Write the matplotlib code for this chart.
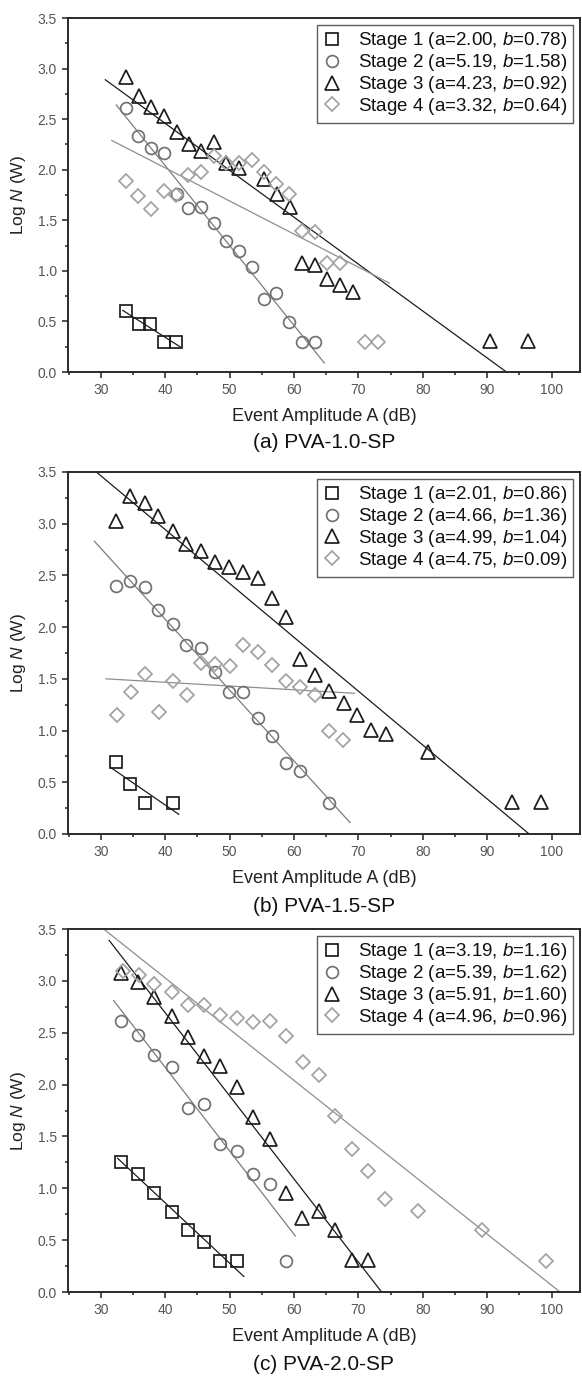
import numpy as np
import matplotlib
matplotlib.use('Agg')
from matplotlib import pyplot as plt
from matplotlib.ticker import MultipleLocator

plt.rcParams['font.family'] = ['Liberation Sans', 'DejaVu Sans']
plt.rcParams['mathtext.fontset'] = 'custom'
plt.rcParams['mathtext.rm'] = 'Liberation Sans'
plt.rcParams['mathtext.it'] = 'Liberation Sans:italic'

## Panel (a) PVA-1.0-SP
a_s1_x = [33.9, 35.9, 37.6, 39.8, 41.7]
a_s1_y = [0.60, 0.48, 0.48, 0.30, 0.30]
a_s2_x = [33.9, 35.8, 37.8, 39.8, 41.8, 43.6, 45.5, 47.5, 49.4, 51.5, 53.4, 55.3, 57.2, 59.2, 61.2, 63.2]
a_s2_y = [2.61, 2.33, 2.22, 2.17, 1.76, 1.62, 1.63, 1.47, 1.30, 1.20, 1.04, 0.72, 0.78, 0.49, 0.30, 0.30]
a_s3_x = [33.9, 35.9, 37.8, 39.8, 41.8, 43.7, 45.6, 47.6, 49.5, 51.5, 55.3, 57.4, 59.4, 61.3, 63.3, 65.1, 67.2, 69.2, 90.5, 96.4]
a_s3_y = [2.92, 2.73, 2.62, 2.53, 2.37, 2.25, 2.19, 2.27, 2.07, 2.02, 1.91, 1.76, 1.63, 1.08, 1.06, 0.92, 0.86, 0.79, 0.31, 0.31]
a_s4_x = [33.9, 35.8, 37.8, 39.8, 41.7, 43.6, 45.5, 47.5, 49.4, 51.5, 53.4, 55.3, 57.2, 59.2, 61.3, 63.3, 65.1, 67.2, 71.0, 73.1]
a_s4_y = [1.89, 1.74, 1.61, 1.79, 1.75, 1.95, 1.98, 2.14, 2.07, 2.07, 2.10, 1.98, 1.86, 1.76, 1.39, 1.38, 1.08, 1.08, 0.30, 0.30]
a_fit_x = [[33.4, 42.3], [32.4, 64.7], [30.7, 93.0], [31.7, 74.8]]
a_fit_y = [[0.61, 0.25], [2.64, 0.09], [2.89, 0.00], [2.29, 0.88]]
a_ab = [(2.00, 0.78), (5.19, 1.58), (4.23, 0.92), (3.32, 0.64)]

## Panel (b) PVA-1.5-SP
b_s1_x = [32.3, 34.6, 36.8, 41.2]
b_s1_y = [0.70, 0.48, 0.30, 0.30]
b_s2_x = [32.3, 34.6, 36.8, 38.9, 41.2, 43.3, 45.5, 47.7, 49.9, 52.1, 54.4, 56.6, 58.8, 61.0, 65.5]
b_s2_y = [2.40, 2.45, 2.39, 2.17, 2.03, 1.83, 1.80, 1.57, 1.37, 1.37, 1.12, 0.95, 0.69, 0.61, 0.30]
b_s3_x = [32.3, 34.6, 36.8, 38.9, 41.2, 43.3, 45.5, 47.7, 49.9, 52.1, 54.4, 56.6, 58.8, 61.0,
          63.2, 65.4, 67.7, 69.8, 72.0, 74.3, 80.8, 93.9, 98.3]
b_s3_y = [3.03, 3.27, 3.20, 3.07, 2.93, 2.80, 2.74, 2.63, 2.58, 2.53, 2.47, 2.28, 2.10, 1.69,
          1.54, 1.38, 1.27, 1.15, 1.01, 0.97, 0.79, 0.31, 0.31]
b_s4_x = [32.5, 34.7, 36.9, 39.0, 41.2, 43.4, 45.6, 47.8, 50.0, 52.1, 54.4, 56.6, 58.8, 61.0, 63.2, 65.5, 67.6]
b_s4_y = [1.15, 1.37, 1.55, 1.18, 1.48, 1.34, 1.65, 1.64, 1.62, 1.83, 1.76, 1.63, 1.48, 1.42, 1.34, 1.00, 0.91]
b_fit_x = [[31.6, 42.1], [29.0, 68.7], [29.3, 96.5], [30.8, 69.4]]
b_fit_y = [[0.64, 0.19], [2.83, 0.11], [3.50, 0.00], [1.50, 1.36]]
b_ab = [(2.01, 0.86), (4.66, 1.36), (4.99, 1.04), (4.75, 0.09)]

## Panel (c) PVA-2.0-SP
c_s1_x = [33.2, 35.7, 38.3, 41.0, 43.5, 46.0, 48.5, 51.2]
c_s1_y = [1.25, 1.14, 0.95, 0.77, 0.60, 0.48, 0.30, 0.30]
c_s2_x = [33.2, 35.7, 38.3, 41.0, 43.5, 46.0, 48.5, 51.2, 53.7, 56.2, 58.8]
c_s2_y = [2.61, 2.48, 2.29, 2.17, 1.77, 1.81, 1.43, 1.36, 1.14, 1.04, 0.30]
c_s3_x = [33.2, 35.7, 38.3, 41.0, 43.5, 46.0, 48.5, 51.1, 53.7, 56.2, 58.7, 61.3, 63.9, 66.4, 69.0, 71.5]
c_s3_y = [3.08, 2.99, 2.84, 2.66, 2.46, 2.28, 2.18, 1.98, 1.69, 1.48, 0.95, 0.71, 0.78, 0.60, 0.31, 0.31]
c_s4_x = [33.4, 35.9, 38.3, 41.0, 43.5, 46.0, 48.5, 51.2, 53.7, 56.2, 58.8, 61.4, 63.9, 66.4, 69.0,
          71.5, 74.1, 79.2, 89.2, 99.1]
c_s4_y = [3.10, 3.06, 2.97, 2.89, 2.77, 2.77, 2.67, 2.64, 2.60, 2.61, 2.47, 2.22, 2.09, 1.70, 1.38,
          1.17, 0.90, 0.78, 0.60, 0.30]
c_fit_x = [[32.6, 52.2], [32.0, 60.2], [31.3, 73.6], [30.45, 101.3]]
c_fit_y = [[1.29, 0.15], [2.81, 0.54], [3.39, 0.00], [3.50, 0.00]]
c_ab = [(3.19, 1.16), (5.39, 1.62), (5.91, 1.60), (4.96, 0.96)]

titles = ['(a) PVA-1.0-SP', '(b) PVA-1.5-SP', '(c) PVA-2.0-SP']

# marker, size, marker colour, line colour
styles = [('s', 8.0, '#1c1c1c', '#1c1c1c'),
          ('o', 8.5, '#727272', '#7c7c7c'),
          ('^', 9.5, '#1c1c1c', '#1c1c1c'),
          ('D', 7.5, '#a2a2a2', '#8e8e8e')]


def draw_panel(ax, xs, ys, fit_x, fit_y, ab, title):
    for k in range(4):
        mk, ms, mc, lc = styles[k]
        ax.plot(fit_x[k], fit_y[k], color=lc, lw=0.9, zorder=2)
        ax.plot(xs[k], ys[k], ls='none', marker=mk, ms=ms, mfc='none', mec=mc, mew=1.25,
                zorder=3, label='Stage %d (a=%.2f, $\\mathit{b}$=%.2f)' % (k + 1, ab[k][0], ab[k][1]))
    ax.set_xlim(24.9, 104.4)
    ax.set_ylim(0, 3.5)
    ax.xaxis.set_major_locator(MultipleLocator(10))
    ax.xaxis.set_minor_locator(MultipleLocator(5))
    ax.yaxis.set_major_locator(MultipleLocator(0.5))
    ax.yaxis.set_minor_locator(MultipleLocator(0.25))
    ax.set_xticks(np.arange(30, 101, 10))
    ax.tick_params(which='both', direction='out', color='#222222', width=1.1,
                   labelcolor='#555555', labelsize=10)
    ax.tick_params(which='major', length=4.5)
    ax.tick_params(which='minor', length=2.5)
    for sp in ax.spines.values():
        sp.set_linewidth(1.4)
        sp.set_color('#2a2a2a')
    ax.set_xlabel('Event Amplitude A (dB)', fontsize=13, color='#222222', labelpad=8)
    ax.set_ylabel('Log $\\mathit{N}$ (W)', fontsize=12.5, color='#222222', labelpad=7)
    ax.text(0.5, -0.2, title, transform=ax.transAxes, ha='center', va='center',
            fontsize=15, color='#111111')
    leg = ax.legend(loc='upper right', fontsize=13.5, frameon=True, fancybox=False,
                    borderaxespad=0.35, borderpad=0.3, labelspacing=0.05,
                    handlelength=1.0, handletextpad=0.9, numpoints=1)
    leg.get_frame().set_edgecolor('#333333')
    leg.get_frame().set_linewidth(1.0)
    for t in leg.get_texts():
        t.set_color('#111111')


fig = plt.figure(figsize=(5.82, 13.78), dpi=100)
ax_a = fig.add_axes([0.1168, 0.7300, 0.8797, 0.2569])
ax_b = fig.add_axes([0.1168, 0.3948, 0.8797, 0.2627])
ax_c = fig.add_axes([0.1168, 0.0624, 0.8797, 0.2634])

draw_panel(ax_a, [a_s1_x, a_s2_x, a_s3_x, a_s4_x], [a_s1_y, a_s2_y, a_s3_y, a_s4_y],
           a_fit_x, a_fit_y, a_ab, titles[0])
draw_panel(ax_b, [b_s1_x, b_s2_x, b_s3_x, b_s4_x], [b_s1_y, b_s2_y, b_s3_y, b_s4_y],
           b_fit_x, b_fit_y, b_ab, titles[1])
draw_panel(ax_c, [c_s1_x, c_s2_x, c_s3_x, c_s4_x], [c_s1_y, c_s2_y, c_s3_y, c_s4_y],
           c_fit_x, c_fit_y, c_ab, titles[2])

fig.savefig('out.png', dpi=100)
